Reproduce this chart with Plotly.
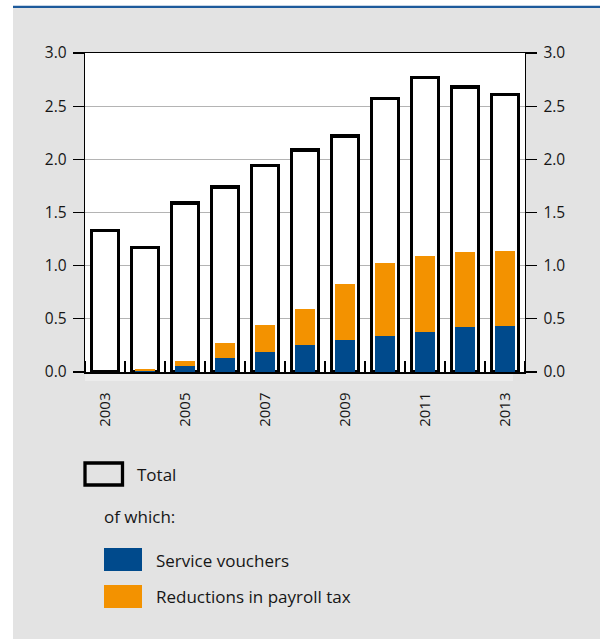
import plotly.graph_objects as go

years = [2003, 2004, 2005, 2006, 2007, 2008, 2009, 2010, 2011, 2012, 2013]
total = [1.33, 1.17, 1.59, 1.74, 1.94, 2.09, 2.22, 2.57, 2.77, 2.68, 2.61]
service_vouchers = [0.0, 0.01, 0.06, 0.13, 0.19, 0.25, 0.30, 0.34, 0.38, 0.42, 0.43]
payroll_tax = [0.0, 0.02, 0.04, 0.145, 0.255, 0.34, 0.525, 0.685, 0.71, 0.71, 0.71]
label_years = [2003, 2005, 2007, 2009, 2011, 2013]
y_ticks = [0.0, 0.5, 1.0, 1.5, 2.0, 2.5, 3.0]

W, H = 600, 639
L, R, T, B = 85, 75, 53, 267
PW, PH = W - L - R, H - T - B
def px(x):
    return (x - L) / PW
def py(y):
    return (H - B - y) / PH

FONT = "Open Sans"
TXT = "#161616"
BLUE = "#004a8c"
ORANGE = "#f39200"
GREY = "#e3e3e3"

fig = go.Figure()
fig.add_trace(go.Bar(x=years, y=total, width=0.667, name="Total",
                     marker=dict(color="white", line=dict(color="black", width=3.5)),
                     xaxis="x", yaxis="y"))
fig.add_trace(go.Bar(x=years, y=service_vouchers, width=0.5, name="Service vouchers",
                     marker=dict(color=BLUE, line=dict(width=0)), xaxis="x", yaxis="y2"))
fig.add_trace(go.Bar(x=years, y=payroll_tax, width=0.5, name="Reductions in payroll tax",
                     marker=dict(color=ORANGE, line=dict(width=0)), xaxis="x", yaxis="y2"))

yax = dict(range=[0, 3], tickvals=y_ticks, tickformat=".1f", ticks="outside", ticklen=11,
           tickcolor="black", tickwidth=1.3, showline=True, linecolor="black", linewidth=1.3,
           zeroline=False, tickfont=dict(family=FONT, size=15.5, color=TXT), fixedrange=True,
           ticklabelstandoff=3)

fig.update_layout(
    width=W, height=H,
    margin=dict(l=L, r=R, t=T, b=B),
    paper_bgcolor=GREY, plot_bgcolor="white",
    barmode="stack", showlegend=False, hovermode=False,
    font=dict(family=FONT, size=15, color=TXT),
    xaxis=dict(range=[2002.5, 2013.5], tickvals=label_years, ticktext=[str(y) for y in label_years],
               tickangle=-90, ticks="", showgrid=False, zeroline=False,
               showline=True, mirror=True, linecolor="black", linewidth=1.5,
               ticklabelstandoff=13, fixedrange=True,
               tickfont=dict(family=FONT, size=15, color=TXT),
               minor=dict(tick0=2002.5, dtick=1, ticks="inside", ticklen=11,
                          tickcolor="black", tickwidth=1.5, showgrid=False)),
    yaxis=dict(**yax, showgrid=True, gridcolor="#b4b4b4", gridwidth=1.3, side="left"),
    yaxis2=dict(**yax, showgrid=False, overlaying="y", side="right"),
)

shapes = [
    dict(type="rect", xref="paper", yref="paper", x0=px(0), x1=px(13), y0=py(H + 20), y1=py(0),
         fillcolor="white", line=dict(width=0), layer="below"),
    dict(type="rect", xref="paper", yref="paper", x0=px(0), x1=px(W + 20), y0=py(6), y1=py(0),
         fillcolor="white", line=dict(width=0), layer="below"),
    dict(type="rect", xref="paper", yref="paper", x0=px(13), x1=px(W + 20), y0=py(8), y1=py(5.8),
         fillcolor="#1d5a9b", line=dict(width=0), layer="below"),
    dict(type="rect", xref="paper", yref="paper", x0=px(85), x1=px(513), y0=py(381), y1=py(372.5),
         fillcolor="#ececec", line=dict(width=0), layer="below"),
    # legend keys
    dict(type="rect", xref="paper", yref="paper", x0=px(85), x1=px(122.5), y0=py(485), y1=py(463),
         fillcolor=GREY, line=dict(color="black", width=3.3)),
    dict(type="rect", xref="paper", yref="paper", x0=px(104), x1=px(142), y0=py(571), y1=py(548),
         fillcolor=BLUE, line=dict(width=0)),
    dict(type="rect", xref="paper", yref="paper", x0=px(104), x1=px(142), y0=py(608), y1=py(585),
         fillcolor=ORANGE, line=dict(width=0)),
]
fig.update_layout(shapes=shapes)

def ann(text, x, y):
    return dict(text=text, xref="paper", yref="paper", x=px(x), y=py(y), xanchor="left",
                yanchor="middle", showarrow=False, font=dict(family=FONT, size=17, color=TXT))

fig.update_layout(annotations=[
    ann("Total", 135, 474),
    ann("of which:", 102, 516),
    ann("Service vouchers", 154, 560),
    ann("Reductions in payroll tax", 154, 596),
])

fig.write_html("out.html", config={"displayModeBar": False, "staticPlot": True},
               post_script="document.body.style.margin='0';document.body.style.padding='0';"
                           "document.body.style.background='" + GREY + "';"
                           "document.documentElement.style.background='" + GREY + "';"
                           "document.documentElement.style.overflow='hidden';")
